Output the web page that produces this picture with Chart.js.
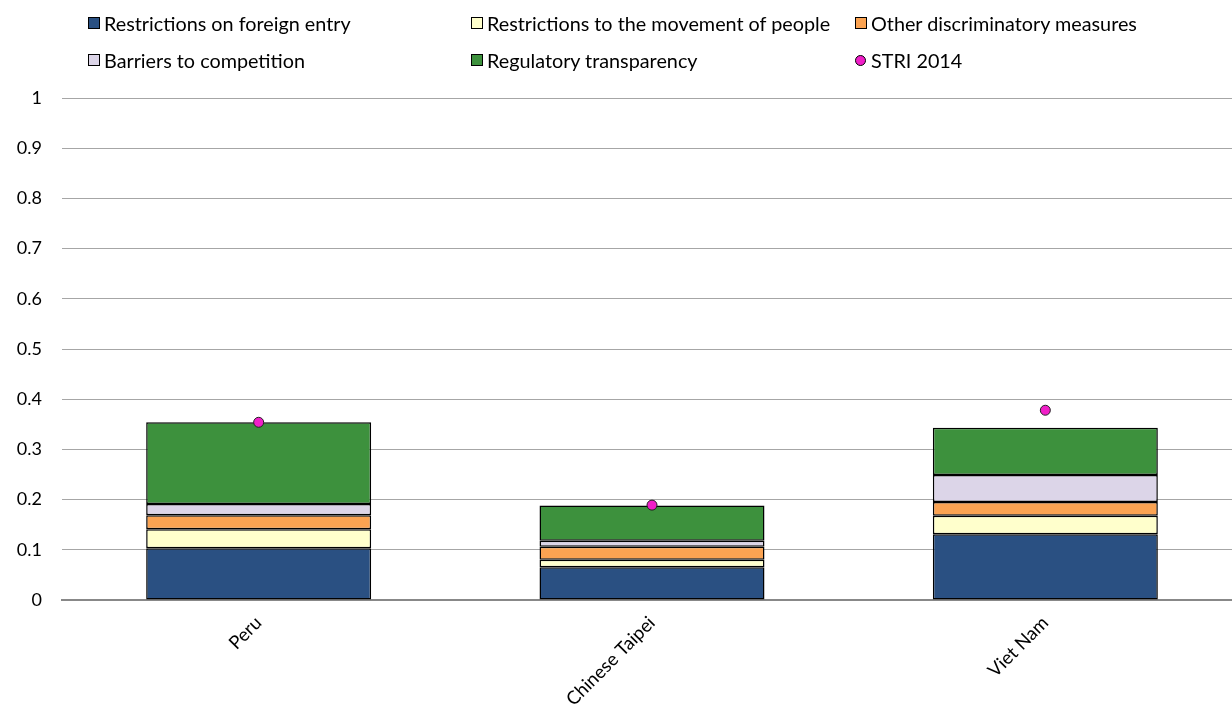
<!DOCTYPE html>
<html>
<head>
<meta charset="utf-8">
<script src="https://cdn.jsdelivr.net/npm/chart.js@4/dist/chart.umd.min.js"></script>
<style>
html,body{margin:0;padding:0;background:#fff;overflow:hidden}
#wrap{position:relative;width:1248px;height:711px}
#legend{position:absolute;left:0;top:0;width:1232px;height:90px;font-family:Lato,"Open Sans",sans-serif;font-size:19.8px;color:#000}
.item{position:absolute;display:flex;align-items:center;white-space:nowrap}
.box{width:10px;height:10px;border:1.5px solid #000;margin-right:4px;box-sizing:content-box}
.dot{width:9px;height:9px;border:1px solid #000;border-radius:50%;margin-right:5px;background:#f01fc8}
</style>
</head>
<body>
<div id="wrap">
<canvas id="striChart" width="1248" height="711"></canvas>
<div id="legend"></div>
</div>
<script>
const countries=["Peru","Chinese Taipei","Viet Nam"]

const foreignEntry=[0.103,0.065,0.131]
const movementPeople=[0.038,0.015,0.037]
const otherDiscrim=[0.028,0.026,0.027]
const competition=[0.022,0.012,0.054]
const transparency=[0.163,0.070,0.094]
const stri2014=[0.354,0.189,0.378]

const yTicks=[0,0.1,0.2,0.3,0.4,0.5,0.6,0.7,0.8,0.9,1]

const seriesNames=["Restrictions on foreign entry","Restrictions to the movement of people","Other discriminatory measures","Barriers to competition","Regulatory transparency"]
const seriesColors=["#2a5082","#ffffcc","#fba352","#dcd5e8","#3d913d"]
const seriesData=[foreignEntry,movementPeople,otherDiscrim,competition,transparency]

/* legend laid out in three columns, two rows */
const legendSlots=[[88,11],[471,11],[855,11],[88,48],[471,48],[855,48]]
const legend=document.getElementById("legend")
seriesNames.concat(["STRI 2014"]).forEach((name,i)=>{
const el=document.createElement("div")
el.className="item"
el.style.left=legendSlots[i][0]+"px"
el.style.top=legendSlots[i][1]+"px"
const mark=document.createElement("span")
if(i<5){
mark.className="box"
mark.style.background=seriesColors[i]
}else{
mark.className="dot"
}
el.appendChild(mark)
el.appendChild(document.createTextNode(name))
legend.appendChild(el)
})

const barSets=seriesNames.map((name,i)=>({
type:"bar",
label:name,
data:seriesData[i],
backgroundColor:seriesColors[i],
borderColor:"#000",
borderWidth:1.5,
borderSkipped:false,
barPercentage:1,
categoryPercentage:0.572,
stack:"stri",
order:2
}))

const ctx=document.getElementById("striChart")

new Chart(ctx,{
data:{
labels:countries,
datasets:barSets.concat([{
type:"scatter",
label:"STRI 2014",
data:stri2014,
backgroundColor:"#f01fc8",
borderColor:"#222",
borderWidth:1,
pointRadius:5,
pointHoverRadius:5,
order:1
}])
},
options:{
responsive:false,
animation:false,
layout:{padding:{top:98,right:0,left:0,bottom:0}},
plugins:{
legend:{display:false},
tooltip:{enabled:false}
},
scales:{
x:{
type:"category",
stacked:true,
offset:true,
grid:{display:false},
border:{color:"#888",width:2},
ticks:{
color:"#000",
font:{family:"Lato",size:18.5},
maxRotation:45,
minRotation:45,
padding:4
},
afterFit:(s)=>{s.height=111}
},
y:{
stacked:true,
min:0,
max:1,
afterBuildTicks:(s)=>{s.ticks=yTicks.map(v=>({value:v}))},
grid:{color:"#a6a6a6",lineWidth:1,drawTicks:false},
border:{display:false},
ticks:{
color:"#000",
font:{family:"Lato",size:18},
padding:20,
callback:(v)=>String(Math.round(v*10)/10)
},
afterFit:(s)=>{s.width=62}
}
}
}
})
</script>
</body>
</html>
